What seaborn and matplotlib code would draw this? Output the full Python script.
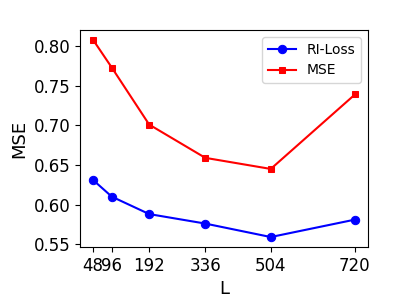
import matplotlib
matplotlib.use('Agg')
import matplotlib.pyplot as plt
import seaborn as sns

# Data
L = [48, 96, 192, 336, 504, 720]
ri_loss = [0.631, 0.610, 0.588, 0.576, 0.559, 0.581]
mse = [0.808, 0.773, 0.701, 0.659, 0.645, 0.739]

fig, ax = plt.subplots(figsize=(4, 3), dpi=100)

sns.lineplot(x=L, y=ri_loss, marker='o', color='blue', label='RI-Loss',
             markeredgecolor='blue', markersize=6, ax=ax)
sns.lineplot(x=L, y=mse, marker='s', color='red', label='MSE',
             markeredgecolor='red', markersize=5, ax=ax)

ax.set_xticks(L)
ax.set_xticklabels([str(v) for v in L])
ax.set_yticks([0.55, 0.60, 0.65, 0.70, 0.75, 0.80])
ax.tick_params(labelsize=12)
ax.set_xlabel('L', fontsize=13)
ax.set_ylabel('MSE', fontsize=13)
ax.legend(loc='upper right', fontsize=10)

plt.subplots_adjust(left=0.2, right=0.92, top=0.9, bottom=0.177)
plt.savefig('out.png')
